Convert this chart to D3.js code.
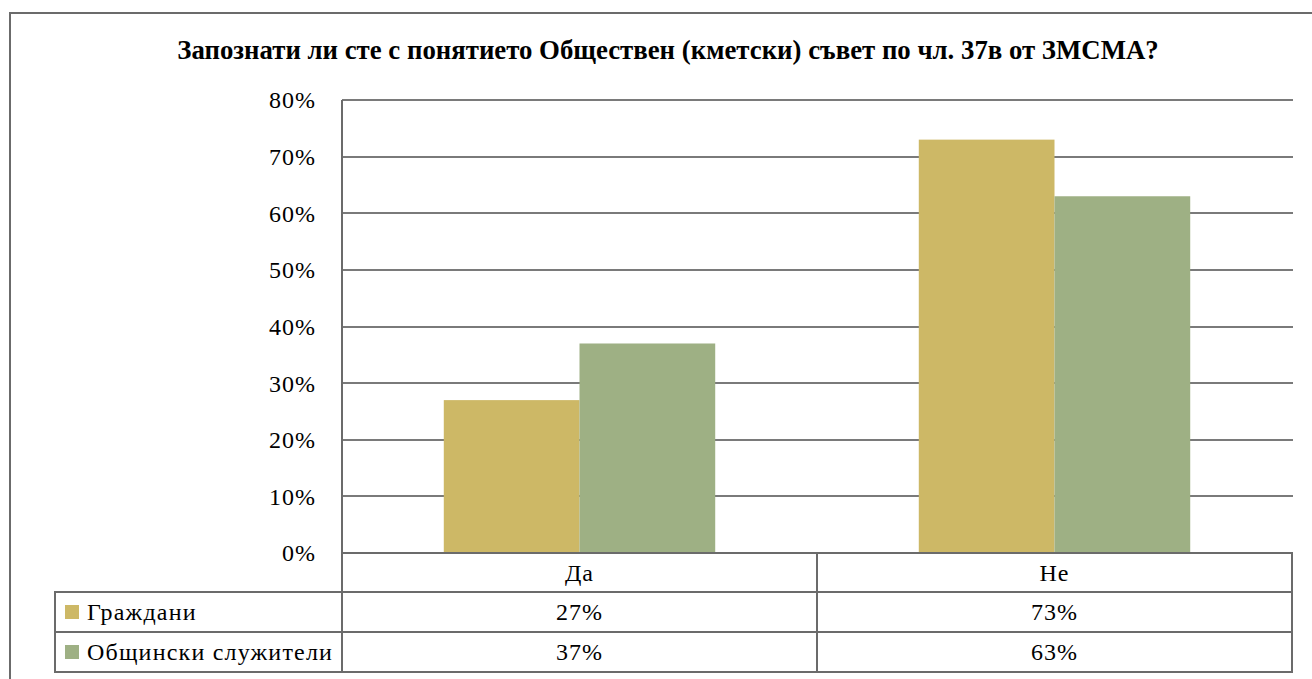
<html>
<head>
    <meta charset="utf-8">
    <script src="https://d3js.org/d3.v7.min.js"></script>
    <style>
        body { margin: 0; background: #fff; }
    </style>
</head>
<body>
    <script>
        // data
        var categories = ["Да", "Не"];
        var seriesNames = ["Граждани", "Общински служители"];
        var citizens = [0.27, 0.73];
        var officials = [0.37, 0.63];
        var seriesColors = ["#cdb866", "#9eb084"];
        var yTicks = [0, 0.1, 0.2, 0.3, 0.4, 0.5, 0.6, 0.7, 0.8];
        var title = "Запознати ли сте с понятието Обществен (кметски) съвет по чл. 37в от ЗМСМА?";

        var seriesValues = [citizens, officials];

        var W = 1312, H = 679;
        var serif = "'Liberation Serif', 'Times New Roman', serif";
        var svg = d3.select("body").append("svg")
            .attr("width", W)
            .attr("height", H)
            .style("font-family", serif);

        // outer frame (runs off the right and bottom edge)
        svg.append("rect")
            .attr("x", 10).attr("y", 13)
            .attr("width", 1340).attr("height", 720)
            .attr("fill", "none")
            .attr("stroke", "#6b6b6b")
            .attr("stroke-width", 2);

        svg.append("text")
            .attr("x", 668).attr("y", 59)
            .attr("text-anchor", "middle")
            .style("font-family", serif)
            .style("font-size", "26.8px")
            .style("font-weight", "bold")
            .text(title);

        var plotLeft = 342, plotRight = 1292, plotTop = 100, plotBottom = 553;
        var rowH = 40;
        var fs = "24px";

        var y = d3.scaleLinear().domain([0, 0.8]).range([plotBottom, plotTop]);
        var x0 = d3.scaleBand().domain(categories).range([plotLeft, plotRight]);
        var x1 = d3.scaleBand().domain(seriesNames)
            .range([0, x0.bandwidth()])
            .paddingInner(0)
            .paddingOuter(0.75);

        var fmt = d3.format(".0%");

        // gridlines
        svg.append("g").selectAll("line")
            .data(yTicks.slice(1))
            .enter().append("line")
            .attr("x1", plotLeft).attr("x2", plotRight + 1)
            .attr("y1", function (d) { return Math.round(y(d)); })
            .attr("y2", function (d) { return Math.round(y(d)); })
            .attr("stroke", "#7a7a7a")
            .attr("stroke-width", 2);

        // bars
        var groups = svg.append("g").selectAll("g")
            .data(categories)
            .enter().append("g")
            .attr("transform", function (c) { return "translate(" + x0(c) + ",0)"; });

        groups.selectAll("rect")
            .data(function (c, i) {
                return seriesNames.map(function (s, j) { return { s: s, j: j, v: seriesValues[j][i] }; });
            })
            .enter().append("rect")
            .attr("x", function (d) { return x1(d.s); })
            .attr("width", x1.bandwidth())
            .attr("y", function (d) { return y(d.v); })
            .attr("height", function (d) { return plotBottom - y(d.v); })
            .attr("fill", function (d) { return seriesColors[d.j]; });

        // y labels
        svg.append("g").selectAll("text")
            .data(yTicks)
            .enter().append("text")
            .attr("x", 316)
            .attr("y", function (d) { return y(d); })
            .attr("dy", "0.35em")
            .attr("text-anchor", "end")
            .style("font-family", serif)
            .style("font-size", fs)
            .style("letter-spacing", "1px")
            .text(fmt);

        // data table lines
        var grid = svg.append("g")
            .attr("stroke", "#6b6b6b")
            .attr("stroke-width", 2)
            .attr("fill", "none");

        // axis line at 0%
        grid.append("line").attr("x1", plotLeft).attr("x2", plotRight + 1).attr("y1", plotBottom).attr("y2", plotBottom);
        // horizontal rows
        [1, 2, 3].forEach(function (k) {
            grid.append("line")
                .attr("x1", 55).attr("x2", plotRight + 1)
                .attr("y1", plotBottom + rowH * k - 1).attr("y2", plotBottom + rowH * k - 1);
        });
        // vertical lines
        grid.append("line").attr("x1", plotLeft).attr("x2", plotLeft).attr("y1", plotTop).attr("y2", plotBottom + rowH * 3);
        grid.append("line").attr("x1", 55).attr("x2", 55).attr("y1", plotBottom + rowH - 2).attr("y2", plotBottom + rowH * 3);
        categories.forEach(function (c) {
            grid.append("line")
                .attr("x1", x0(c) + x0.bandwidth()).attr("x2", x0(c) + x0.bandwidth())
                .attr("y1", plotBottom).attr("y2", plotBottom + rowH * 3);
        });

        // category header
        svg.append("g").selectAll("text")
            .data(categories)
            .enter().append("text")
            .attr("x", function (c) { return x0(c) + x0.bandwidth() / 2; })
            .attr("y", plotBottom + rowH / 2)
            .attr("dy", "0.35em")
            .attr("text-anchor", "middle")
            .style("font-family", serif)
            .style("font-size", fs)
            .style("letter-spacing", "1px")
            .text(String);

        // table rows
        var rows = svg.append("g").selectAll("g")
            .data(seriesNames)
            .enter().append("g")
            .attr("transform", function (s, j) { return "translate(0," + (plotBottom + rowH * (j + 1)) + ")"; });

        rows.append("rect")
            .attr("x", 65).attr("y", rowH / 2 - 8)
            .attr("width", 14).attr("height", 14)
            .attr("fill", function (s, j) { return seriesColors[j]; });

        rows.append("text")
            .attr("x", 87).attr("y", rowH / 2 - 1)
            .attr("dy", "0.35em")
            .style("font-family", serif)
            .style("font-size", fs)
            .style("letter-spacing", "1.2px")
            .text(String);

        rows.selectAll("text.val")
            .data(function (s, j) { return seriesValues[j]; })
            .enter().append("text")
            .attr("class", "val")
            .attr("x", function (v, i) { return x0(categories[i]) + x0.bandwidth() / 2; })
            .attr("y", rowH / 2 - 1)
            .attr("dy", "0.35em")
            .attr("text-anchor", "middle")
            .style("font-family", serif)
            .style("font-size", fs)
            .style("letter-spacing", "1px")
            .text(fmt);
    </script>
</body>
</html>
